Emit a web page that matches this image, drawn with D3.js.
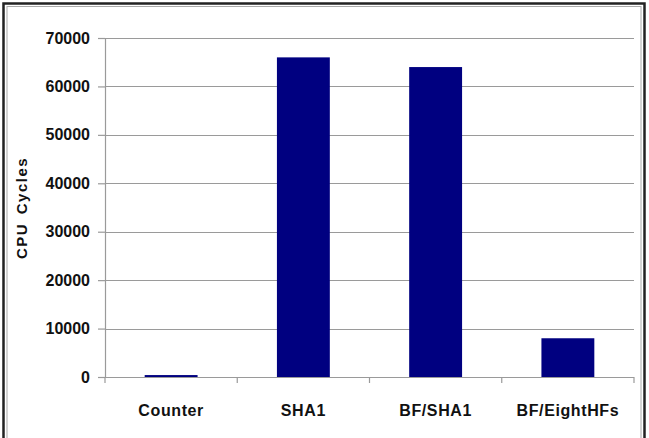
<!DOCTYPE html>
<html>
<head>
<meta charset="utf-8">
<script src="https://cdn.jsdelivr.net/npm/d3@7"></script>
<style>
  html, body { margin: 0; padding: 0; background: #fff; }
  svg { display: block; }
</style>
</head>
<body>
<div id="chart"></div>
<script>
// Data
const categories = ['Counter', 'SHA1', 'BF/SHA1', 'BF/EightHFs'];
const cycles     = [400, 66000, 64000, 8000];
const yTicks     = [0, 10000, 20000, 30000, 40000, 50000, 60000, 70000];

const W = 649, H = 438;
const plot = { left: 105, right: 634, top: 38, bottom: 377 };

const svg = d3.select('#chart').append('svg')
    .attr('width', W)
    .attr('height', H)
    .style('font-family', 'Arial, "Liberation Sans", sans-serif');

// Outer frame (double line on the left, heavy dark lines)
svg.append('rect')
    .attr('x', 3.5).attr('y', 3.5)
    .attr('width', 641).attr('height', 440)
    .attr('fill', 'none')
    .attr('stroke', '#222')
    .attr('stroke-width', 2.5);
svg.append('rect')
    .attr('x', 7).attr('y', 6.5)
    .attr('width', 634).attr('height', 440)
    .attr('fill', 'none')
    .attr('stroke', '#aaa')
    .attr('stroke-width', 1);

const x = d3.scaleBand()
    .domain(categories)
    .range([plot.left, plot.right])
    .paddingInner(0.6)
    .paddingOuter(0.3);

const y = d3.scaleLinear()
    .domain([0, 70000])
    .range([plot.bottom, plot.top]);

// Gridlines
svg.append('g')
    .selectAll('line')
    .data(yTicks.filter(t => t > 0))
    .join('line')
    .attr('x1', plot.left).attr('x2', plot.right)
    .attr('y1', d => Math.round(y(d)) + 0.5)
    .attr('y2', d => Math.round(y(d)) + 0.5)
    .attr('stroke', '#9a9a9a')
    .attr('stroke-width', 1.2);

// Bars
svg.append('g')
    .selectAll('rect')
    .data(categories)
    .join('rect')
    .attr('x', d => x(d))
    .attr('width', x.bandwidth())
    .attr('y', (d, i) => y(cycles[i]))
    .attr('height', (d, i) => y(0) - y(cycles[i]))
    .attr('fill', '#000080');

// Y axis
const yAxis = svg.append('g')
    .attr('transform', `translate(${plot.left},0)`)
    .call(d3.axisLeft(y).tickValues(yTicks).tickFormat(d3.format('d')).tickSizeOuter(0).tickSize(7).tickPadding(8));
yAxis.select('.domain').attr('stroke', '#9a9a9a').attr('stroke-width', 1.2);
yAxis.selectAll('.tick line').attr('stroke', '#9a9a9a').attr('stroke-width', 1.2);
yAxis.selectAll('.tick text')
    .attr('fill', '#111')
    .style('font-size', '16px')
    .style('font-weight', 'bold');

// X axis: ticks between categories
const bounds = [plot.left].concat(categories.map(c => x(c) + x.bandwidth() + x.step() * x.paddingInner() / 2));
bounds[bounds.length - 1] = plot.right;
const xAxis = svg.append('g');
xAxis.append('line')
    .attr('x1', plot.left).attr('x2', plot.right)
    .attr('y1', plot.bottom + 0.5).attr('y2', plot.bottom + 0.5)
    .attr('stroke', '#9a9a9a').attr('stroke-width', 1.2);
xAxis.selectAll('line.tk')
    .data(bounds)
    .join('line')
    .attr('class', 'tk')
    .attr('x1', d => d).attr('x2', d => d)
    .attr('y1', plot.bottom).attr('y2', plot.bottom + 6)
    .attr('stroke', '#9a9a9a').attr('stroke-width', 1.2);
xAxis.selectAll('text')
    .data(categories)
    .join('text')
    .attr('x', d => x(d) + x.bandwidth() / 2)
    .attr('y', 416)
    .attr('text-anchor', 'middle')
    .attr('fill', '#111')
    .style('font-size', '16px')
    .style('font-weight', 'bold')
    .style('letter-spacing', '0.6px')
    .text(d => d);

// Y axis title
svg.append('text')
    .attr('transform', 'translate(27,208) rotate(-90)')
    .attr('text-anchor', 'middle')
    .attr('fill', '#111')
    .style('font-size', '15px')
    .style('font-weight', 'bold')
    .style('letter-spacing', '1.5px')
    .style('word-spacing', '3px')
    .text('CPU Cycles');
</script>
</body>
</html>
